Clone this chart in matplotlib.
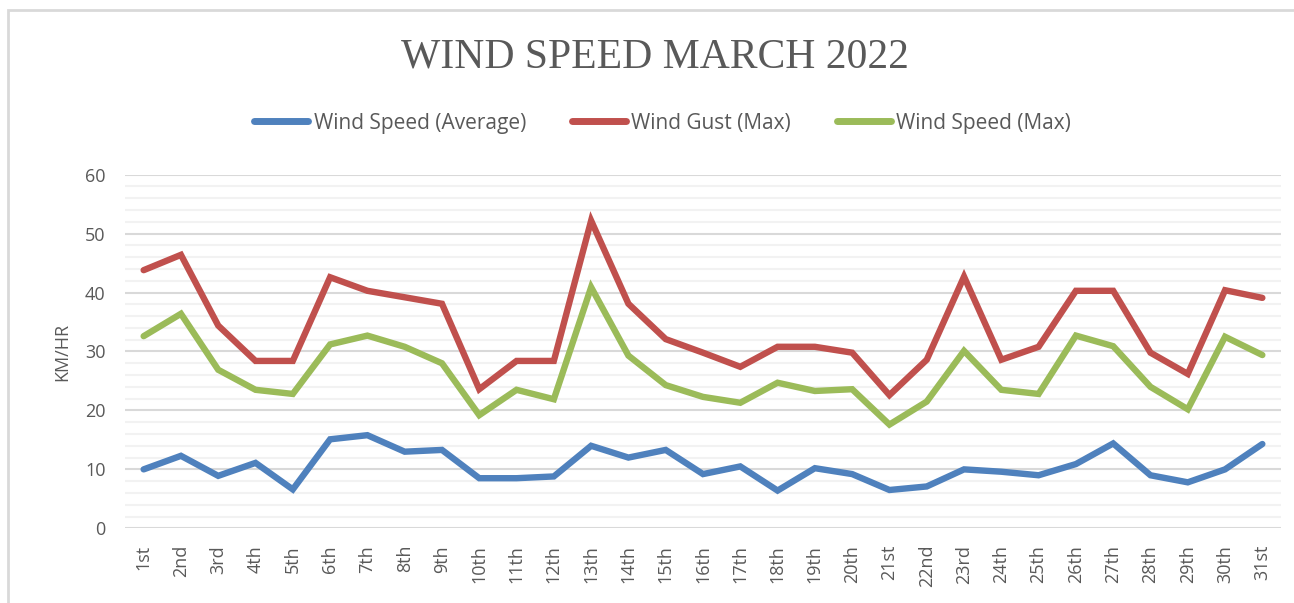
import matplotlib
matplotlib.use("Agg")
import matplotlib.pyplot as plt
from matplotlib.patches import Rectangle
from matplotlib.ticker import MultipleLocator

days = ["1st", "2nd", "3rd", "4th", "5th", "6th", "7th", "8th", "9th", "10th",
        "11th", "12th", "13th", "14th", "15th", "16th", "17th", "18th", "19th", "20th",
        "21st", "22nd", "23rd", "24th", "25th", "26th", "27th", "28th", "29th", "30th", "31st"]

wind_avg = [10.0, 12.3, 8.9, 11.1, 6.6, 15.1, 15.8, 13.0, 13.3, 8.5,
            8.5, 8.8, 14.0, 12.0, 13.3, 9.2, 10.5, 6.4, 10.2, 9.2,
            6.5, 7.1, 10.0, 9.6, 9.0, 10.9, 14.4, 9.0, 7.8, 10.0, 14.3]

gust_max = [43.8, 46.4, 34.4, 28.4, 28.4, 42.6, 40.3, 39.2, 38.1, 23.6,
            28.4, 28.4, 52.2, 38.1, 32.1, 29.8, 27.4, 30.8, 30.8, 29.8,
            22.6, 28.6, 42.7, 28.6, 30.8, 40.3, 40.3, 29.8, 26.2, 40.4, 39.1]

wind_max = [32.6, 36.4, 26.9, 23.5, 22.8, 31.2, 32.7, 30.8, 28.0, 19.2,
            23.5, 21.9, 40.9, 29.3, 24.3, 22.3, 21.3, 24.7, 23.3, 23.6,
            17.6, 21.5, 30.1, 23.5, 22.8, 32.7, 30.9, 24.0, 20.2, 32.5, 29.4]

series_names = ["Wind Speed (Average)", "Wind Gust (Max)", "Wind Speed (Max)"]
colors = ["#4F81BD", "#C0504D", "#9BBB59"]

txt = "#595959"
plt.rcParams['font.family'] = ['Open Sans', 'DejaVu Sans']

fig = plt.figure(figsize=(12.94, 6.03), dpi=100)
# chart border (right and bottom edges fall outside the image)
fig.patches.append(Rectangle((8 / 1294, -0.05), 1.2, (603 - 10) / 603 + 0.05,
                             transform=fig.transFigure, fill=False,
                             edgecolor="#D9D9D9", linewidth=2.0, zorder=0))

ax = fig.add_axes([125 / 1294, 1 - 528.3 / 603, (1281 - 125) / 1294, (528.3 - 174.7) / 603])
x = list(range(len(days)))
handles = []
for vals, c, name in zip([wind_avg, gust_max, wind_max], colors, series_names):
    h, = ax.plot(x, vals, color=c, linewidth=4.6, solid_joinstyle="miter",
                 solid_capstyle="round", label=name, zorder=3)
    handles.append(h)

ax.set_xlim(-0.5, len(days) - 0.5)
ax.set_ylim(0, 60)
ax.yaxis.set_major_locator(MultipleLocator(10))
ax.yaxis.set_minor_locator(MultipleLocator(2))
ax.grid(which="major", axis="y", color="#D9D9D9", linewidth=1.5, zorder=1)
ax.grid(which="minor", axis="y", color="#F2F2F2", linewidth=1.5, zorder=0)
for s in ax.spines.values():
    s.set_visible(False)
ax.tick_params(axis="both", which="both", length=0)
ax.set_xticks(x)
ax.set_xticklabels(days, rotation=90, fontsize=13, color=txt)
ax.tick_params(axis="x", pad=12)
ax.tick_params(axis="y", labelsize=13, labelcolor=txt, pad=14)
ax.set_ylabel("KM/HR", fontsize=13, color=txt, labelpad=10)

fig.text(0.506, 1 - 57 / 603, "WIND SPEED MARCH 2022", ha="center", va="center",
         fontsize=30, color=txt, family=["Liberation Serif", "DejaVu Serif"])

leg = fig.legend(handles=handles, labels=series_names, loc="center",
                 bbox_to_anchor=(0.512, 1 - 123 / 603), ncol=3, frameon=False,
                 fontsize=15, handlelength=2.6, handletextpad=0.25,
                 columnspacing=2.2, labelcolor=txt)
for lh in leg.get_lines():
    lh.set_linewidth(5)

fig.savefig("out.png", dpi=100)
